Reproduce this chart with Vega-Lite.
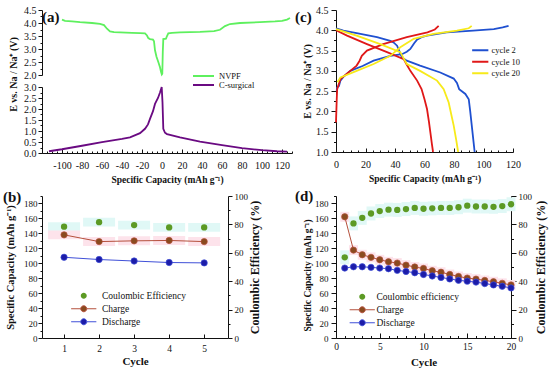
{
"$schema": "https://vega.github.io/schema/vega-lite/v6.json",
"padding": {"left": 3, "top": 5, "right": 2, "bottom": 2},
"config": {
 "view": {"stroke": null},
 "font": "Liberation Serif",
 "axis": {"labelFont": "Liberation Serif", "titleFont": "Liberation Serif", "labelFontSize": 10, "titleFontSize": 10, "titleFontWeight": "bold", "labelColor": "#111", "titleColor": "#111", "domainColor": "#111", "tickColor": "#111", "grid": false, "labelPadding": 2, "tickSize": 4, "domainWidth": 1, "tickWidth": 1, "labelFlush": false, "labelOverlap": false},
 "legend": {"labelFont": "Liberation Serif", "labelColor": "#111", "labelFontSize": 8.5},
 "title": {"font": "Liberation Serif", "fontSize": 15, "fontWeight": "bold", "anchor": "start", "frame": "group", "baseline": "middle", "color": "#111"}
},
"resolve": {"scale": {"color": "independent", "fill": "independent", "stroke": "independent"}},
"spacing": 4,
"vconcat": [
 {"hconcat": [
  {"title": {"text": "(a)", "dx": 0, "offset": -20},
   "bounds": "flush",
   "spacing": 12,
   "resolve": {"scale": {"color": "independent"}},
   "vconcat": [
    {"width": 250, "height": 65,
     "data": {"values": [
      {"x":-100,"e":4.13,"s":"NVPF"},{"x":-97,"e":4.08,"s":"NVPF"},{"x":-90,"e":4.06,"s":"NVPF"},{"x":-82,"e":4.03,"s":"NVPF"},{"x":-70,"e":4.0,"s":"NVPF"},{"x":-62,"e":3.97,"s":"NVPF"},{"x":-58,"e":3.92,"s":"NVPF"},{"x":-55,"e":3.78,"s":"NVPF"},{"x":-52,"e":3.68,"s":"NVPF"},{"x":-48,"e":3.65,"s":"NVPF"},{"x":-42,"e":3.64,"s":"NVPF"},{"x":-30,"e":3.62,"s":"NVPF"},{"x":-22,"e":3.61,"s":"NVPF"},{"x":-17,"e":3.6,"s":"NVPF"},{"x":-15,"e":3.52,"s":"NVPF"},{"x":-13.7,"e":3.42,"s":"NVPF"},{"x":-12,"e":3.38,"s":"NVPF"},{"x":-9,"e":3.36,"s":"NVPF"},{"x":-8,"e":3.3,"s":"NVPF"},{"x":-7,"e":2.95,"s":"NVPF"},{"x":-5.5,"e":2.7,"s":"NVPF"},{"x":-3.7,"e":2.5,"s":"NVPF"},{"x":-2,"e":2.3,"s":"NVPF"},{"x":-1,"e":2.12,"s":"NVPF"},{"x":-0.2,"e":2.02,"s":"NVPF"},{"x":0.3,"e":2.05,"s":"NVPF"},{"x":0.8,"e":2.9,"s":"NVPF"},{"x":1.3,"e":3.38,"s":"NVPF"},{"x":4,"e":3.4,"s":"NVPF"},{"x":5,"e":3.5,"s":"NVPF"},{"x":6.3,"e":3.6,"s":"NVPF"},{"x":10,"e":3.62,"s":"NVPF"},{"x":18,"e":3.64,"s":"NVPF"},{"x":38,"e":3.66,"s":"NVPF"},{"x":52,"e":3.69,"s":"NVPF"},{"x":58,"e":3.74,"s":"NVPF"},{"x":63,"e":3.88,"s":"NVPF"},{"x":68,"e":3.96,"s":"NVPF"},{"x":78,"e":4.0,"s":"NVPF"},{"x":98,"e":4.03,"s":"NVPF"},{"x":113,"e":4.06,"s":"NVPF"},{"x":120,"e":4.08,"s":"NVPF"},{"x":125,"e":4.13,"s":"NVPF"},{"x":128,"e":4.19,"s":"NVPF"}
     ]},
     "mark": {"type": "line", "strokeWidth": 1.8},
     "encoding": {
      "x": {"field": "x", "type": "quantitative", "scale": {"domain": [-120, 130]}, "axis": null},
      "y": {"field": "e", "type": "quantitative", "scale": {"domain": [2, 4.5]},
        "axis": {"values": [2,2.25,2.5,2.75,3,3.25,3.5,3.75,4,4.25,4.5],
          "labelExpr": "round(datum.value*100) % 50 === 0 ? format(datum.value, '.1f') : ''",
          "tickSize": {"condition": {"test": "round(datum.value*100) % 50 !== 0", "value": 2}, "value": 4},
          "title": "E vs. Na / Na⁺ (V)", "titleY": 64, "titlePadding": 5}},
      "color": {"field": "s", "type": "nominal", "scale": {"domain": ["NVPF"], "range": ["#5ef05e"]},
        "legend": {"title": null, "orient": "none", "legendX": 150, "legendY": 54.5, "symbolType": "stroke", "symbolSize": 441, "symbolStrokeWidth": 2, "labelOffset": 4}}
     }
    },
    {"width": 250, "height": 66,
     "data": {"values": [
      {"x":-113,"e":0.08,"s":"C-surgical"},{"x":-100,"e":0.17,"s":"C-surgical"},{"x":-80,"e":0.33,"s":"C-surgical"},{"x":-60,"e":0.49,"s":"C-surgical"},{"x":-40,"e":0.64,"s":"C-surgical"},{"x":-32,"e":0.71,"s":"C-surgical"},{"x":-22,"e":0.9,"s":"C-surgical"},{"x":-17,"e":1.1,"s":"C-surgical"},{"x":-14,"e":1.3,"s":"C-surgical"},{"x":-12,"e":1.55,"s":"C-surgical"},{"x":-9,"e":1.9,"s":"C-surgical"},{"x":-7,"e":2.23,"s":"C-surgical"},{"x":-4,"e":2.5,"s":"C-surgical"},{"x":-2,"e":2.75,"s":"C-surgical"},{"x":-0.3,"e":3.0,"s":"C-surgical"},{"x":0.5,"e":2.3,"s":"C-surgical"},{"x":1.3,"e":1.1,"s":"C-surgical"},{"x":3,"e":0.92,"s":"C-surgical"},{"x":5,"e":0.86,"s":"C-surgical"},{"x":10,"e":0.8,"s":"C-surgical"},{"x":18,"e":0.71,"s":"C-surgical"},{"x":38,"e":0.52,"s":"C-surgical"},{"x":60,"e":0.36,"s":"C-surgical"},{"x":80,"e":0.22,"s":"C-surgical"},{"x":100,"e":0.13,"s":"C-surgical"},{"x":115,"e":0.08,"s":"C-surgical"},{"x":125,"e":0.06,"s":"C-surgical"}
     ]},
     "mark": {"type": "line", "strokeWidth": 1.8},
     "encoding": {
      "x": {"field": "x", "type": "quantitative", "scale": {"domain": [-120, 130]},
        "axis": {"values": [-120,-115,-110,-105,-100,-95,-90,-85,-80,-75,-70,-65,-60,-55,-50,-45,-40,-35,-30,-25,-20,-15,-10,-5,0,5,10,15,20,25,30,35,40,45,50,55,60,65,70,75,80,85,90,95,100,105,110,115,120,125,130],
          "labelExpr": "(datum.value % 20 === 0 && datum.value !== -120) ? '' + datum.value : ''",
          "tickSize": {"condition": {"test": "datum.value % 20 !== 0", "value": -2}, "value": -4},
          "labelPadding": 11, "title": "Specific Capacity (mAh g⁻¹)", "titleFontSize": 9.5, "titlePadding": 2}},
      "y": {"field": "e", "type": "quantitative", "scale": {"domain": [0, 3]},
        "axis": {"values": [0,0.25,0.5,0.75,1,1.25,1.5,1.75,2,2.25,2.5,2.75,3],
          "labelExpr": "round(datum.value*100) % 50 === 0 ? format(datum.value, '.1f') : ''",
          "tickSize": {"condition": {"test": "round(datum.value*100) % 50 !== 0", "value": 2}, "value": 4},
          "title": null}},
      "color": {"field": "s", "type": "nominal", "scale": {"domain": ["C-surgical"], "range": ["#6a0a82"]},
        "legend": {"title": null, "orient": "none", "legendX": 150, "legendY": -13.5, "symbolType": "stroke", "symbolSize": 441, "symbolStrokeWidth": 2, "labelOffset": 4}}
     }
    }
   ]
  },
  {"width": 177, "height": 142,
   "title": {"text": "(c)", "dx": -41, "offset": -20},
   "data": {"values": [
    {"x":0.5,"e":2.5,"s":"cycle 2","g":"c"},{"x":0.7,"e":2.59,"s":"cycle 2","g":"c"},{"x":2,"e":2.63,"s":"cycle 2","g":"c"},{"x":3,"e":2.76,"s":"cycle 2","g":"c"},{"x":5,"e":2.85,"s":"cycle 2","g":"c"},{"x":9.7,"e":3.0,"s":"cycle 2","g":"c"},{"x":18,"e":3.12,"s":"cycle 2","g":"c"},{"x":25.5,"e":3.25,"s":"cycle 2","g":"c"},{"x":36.8,"e":3.37,"s":"cycle 2","g":"c"},{"x":44.7,"e":3.41,"s":"cycle 2","g":"c"},{"x":48,"e":3.47,"s":"cycle 2","g":"c"},{"x":50.4,"e":3.54,"s":"cycle 2","g":"c"},{"x":53,"e":3.68,"s":"cycle 2","g":"c"},{"x":54.9,"e":3.77,"s":"cycle 2","g":"c"},{"x":58,"e":3.83,"s":"cycle 2","g":"c"},{"x":61.7,"e":3.87,"s":"cycle 2","g":"c"},{"x":75,"e":3.95,"s":"cycle 2","g":"c"},{"x":93,"e":3.99,"s":"cycle 2","g":"c"},{"x":107,"e":4.03,"s":"cycle 2","g":"c"},{"x":113,"e":4.07,"s":"cycle 2","g":"c"},{"x":117,"e":4.11,"s":"cycle 2","g":"c"},
    {"x":0,"e":4.05,"s":"cycle 2","g":"d"},{"x":5,"e":3.99,"s":"cycle 2","g":"d"},{"x":14,"e":3.93,"s":"cycle 2","g":"d"},{"x":27.8,"e":3.83,"s":"cycle 2","g":"d"},{"x":36.8,"e":3.74,"s":"cycle 2","g":"d"},{"x":39,"e":3.7,"s":"cycle 2","g":"d"},{"x":41.4,"e":3.62,"s":"cycle 2","g":"d"},{"x":43,"e":3.48,"s":"cycle 2","g":"d"},{"x":44.7,"e":3.33,"s":"cycle 2","g":"d"},{"x":48,"e":3.25,"s":"cycle 2","g":"d"},{"x":57,"e":3.13,"s":"cycle 2","g":"d"},{"x":70.7,"e":2.96,"s":"cycle 2","g":"d"},{"x":79.8,"e":2.81,"s":"cycle 2","g":"d"},{"x":82,"e":2.7,"s":"cycle 2","g":"d"},{"x":83.5,"e":2.55,"s":"cycle 2","g":"d"},{"x":87.7,"e":2.43,"s":"cycle 2","g":"d"},{"x":90,"e":2.3,"s":"cycle 2","g":"d"},{"x":91,"e":2.0,"s":"cycle 2","g":"d"},{"x":92.2,"e":1.6,"s":"cycle 2","g":"d"},{"x":93.1,"e":1.3,"s":"cycle 2","g":"d"},{"x":94,"e":1.0,"s":"cycle 2","g":"d"},
    {"x":0,"e":1.73,"s":"cycle 10","g":"c"},{"x":0.5,"e":2.3,"s":"cycle 10","g":"c"},{"x":0.8,"e":2.55,"s":"cycle 10","g":"c"},{"x":3,"e":2.8,"s":"cycle 10","g":"c"},{"x":9.7,"e":3.0,"s":"cycle 10","g":"c"},{"x":14,"e":3.13,"s":"cycle 10","g":"c"},{"x":16,"e":3.25,"s":"cycle 10","g":"c"},{"x":17.5,"e":3.37,"s":"cycle 10","g":"c"},{"x":21,"e":3.5,"s":"cycle 10","g":"c"},{"x":32,"e":3.66,"s":"cycle 10","g":"c"},{"x":48,"e":3.83,"s":"cycle 10","g":"c"},{"x":62,"e":3.95,"s":"cycle 10","g":"c"},{"x":67,"e":4.02,"s":"cycle 10","g":"c"},{"x":69.6,"e":4.11,"s":"cycle 10","g":"c"},
    {"x":0,"e":4.0,"s":"cycle 10","g":"d"},{"x":7.5,"e":3.87,"s":"cycle 10","g":"d"},{"x":21,"e":3.66,"s":"cycle 10","g":"d"},{"x":34.6,"e":3.46,"s":"cycle 10","g":"d"},{"x":45.9,"e":3.29,"s":"cycle 10","g":"d"},{"x":48,"e":3.15,"s":"cycle 10","g":"d"},{"x":50.4,"e":3.0,"s":"cycle 10","g":"d"},{"x":55,"e":2.76,"s":"cycle 10","g":"d"},{"x":58,"e":2.55,"s":"cycle 10","g":"d"},{"x":60,"e":2.3,"s":"cycle 10","g":"d"},{"x":61.7,"e":2.06,"s":"cycle 10","g":"d"},{"x":63,"e":1.75,"s":"cycle 10","g":"d"},{"x":64,"e":1.48,"s":"cycle 10","g":"d"},{"x":65,"e":1.2,"s":"cycle 10","g":"d"},{"x":65.8,"e":1.0,"s":"cycle 10","g":"d"},
    {"x":1,"e":2.72,"s":"cycle 20","g":"c"},{"x":3,"e":2.84,"s":"cycle 20","g":"c"},{"x":14,"e":3.0,"s":"cycle 20","g":"c"},{"x":25.5,"e":3.17,"s":"cycle 20","g":"c"},{"x":36.8,"e":3.37,"s":"cycle 20","g":"c"},{"x":43.6,"e":3.58,"s":"cycle 20","g":"c"},{"x":52.7,"e":3.79,"s":"cycle 20","g":"c"},{"x":66,"e":3.91,"s":"cycle 20","g":"c"},{"x":82,"e":3.99,"s":"cycle 20","g":"c"},{"x":90,"e":4.05,"s":"cycle 20","g":"c"},{"x":92,"e":4.11,"s":"cycle 20","g":"c"},
    {"x":0,"e":4.03,"s":"cycle 20","g":"d"},{"x":14,"e":3.87,"s":"cycle 20","g":"d"},{"x":30,"e":3.66,"s":"cycle 20","g":"d"},{"x":43.6,"e":3.46,"s":"cycle 20","g":"d"},{"x":46,"e":3.3,"s":"cycle 20","g":"d"},{"x":48,"e":3.17,"s":"cycle 20","g":"d"},{"x":57,"e":3.0,"s":"cycle 20","g":"d"},{"x":68.5,"e":2.76,"s":"cycle 20","g":"d"},{"x":73,"e":2.55,"s":"cycle 20","g":"d"},{"x":76.4,"e":2.22,"s":"cycle 20","g":"d"},{"x":78,"e":1.95,"s":"cycle 20","g":"d"},{"x":79.8,"e":1.65,"s":"cycle 20","g":"d"},{"x":81.5,"e":1.3,"s":"cycle 20","g":"d"},{"x":82.8,"e":1.0,"s":"cycle 20","g":"d"}
   ]},
   "mark": {"type": "line", "strokeWidth": 1.8},
   "encoding": {
    "x": {"field": "x", "type": "quantitative", "scale": {"domain": [0, 120]},
      "axis": {"values": [0,5,10,15,20,25,30,35,40,45,50,55,60,65,70,75,80,85,90,95,100,105,110,115,120],
        "labelExpr": "datum.value % 20 === 0 ? '' + datum.value : ''",
        "tickSize": {"condition": {"test": "datum.value % 20 !== 0", "value": -2}, "value": -4},
        "labelPadding": 11, "title": "Specific Capacity (mAh g⁻¹)", "titleFontSize": 9.5, "titlePadding": 2}},
    "y": {"field": "e", "type": "quantitative", "scale": {"domain": [1, 4.5]},
      "axis": {"values": [1,1.25,1.5,1.75,2,2.25,2.5,2.75,3,3.25,3.5,3.75,4,4.25,4.5],
        "labelExpr": "round(datum.value*100) % 50 === 0 ? format(datum.value, '.1f') : ''",
        "tickSize": {"condition": {"test": "round(datum.value*100) % 50 !== 0", "value": 2.5}, "value": 5},
        "labelPadding": 3, "title": "E vs. Na / Na⁺ (V)", "titlePadding": 3}},
    "color": {"field": "s", "type": "nominal", "scale": {"domain": ["cycle 2", "cycle 10", "cycle 20"], "range": ["#1f50d0", "#e01818", "#f7ea1a"]},
      "legend": {"title": null, "orient": "none", "legendX": 140, "legendY": 36, "symbolType": "M-2.7,0H2.7", "symbolSize": 36, "symbolStrokeWidth": 2, "labelOffset": 7, "rowPadding": 2.5}},
    "detail": {"field": "g"}
   }
  }
 ],
 "spacing": 1,
 "resolve": {"scale": {"color": "independent"}}
 },
 {"hconcat": [
  {"width": 186, "height": 142,
   "title": {"text": "(b)", "dx": -39, "offset": -12.5},
   "data": {"values": [
    {"c":1,"s":"Coulombic Efficiency","v":78.4},{"c":2,"s":"Coulombic Efficiency","v":81.6},{"c":3,"s":"Coulombic Efficiency","v":79.5},{"c":4,"s":"Coulombic Efficiency","v":77.9},{"c":5,"s":"Coulombic Efficiency","v":77.9},
    {"c":1,"s":"Charge","v":138},{"c":2,"s":"Charge","v":129},{"c":3,"s":"Charge","v":130},{"c":4,"s":"Charge","v":130.5},{"c":5,"s":"Charge","v":129},
    {"c":1,"s":"Discharge","v":108},{"c":2,"s":"Discharge","v":105},{"c":3,"s":"Discharge","v":103},{"c":4,"s":"Discharge","v":101},{"c":5,"s":"Discharge","v":100.5}
   ]},
   "encoding": {"x": {"field": "c", "type": "quantitative", "scale": {"domain": [0.37, 5.68]},
     "axis": {"values": [1,2,3,4,5], "tickSize": -4, "labelPadding": 9, "labelFontSize": 9.5, "title": "Cycle", "titleFontSize": 11, "titlePadding": 3}}},
   "layer": [
    {"transform": [{"filter": "datum.s === 'Coulombic Efficiency'"}],
     "mark": {"type": "point", "shape": "M-1,-0.27H1V0.27H-1Z", "filled": true, "size": 1024, "color": "#e0f8f6", "opacity": 1},
     "encoding": {"y": {"field": "v", "type": "quantitative", "scale": {"domain": [0, 100]}, "axis": null}}},
    {"layer": [
      {"transform": [{"filter": "datum.s === 'Charge'"}], "mark": {"type": "point", "shape": "M-1,-0.28H1V0.28H-1Z", "filled": true, "size": 1024, "color": "#fde3eb", "opacity": 1}},
      {"transform": [{"filter": "datum.s === 'Charge'"}], "mark": {"type": "line", "color": "#b5503c", "strokeWidth": 1}},
      {"transform": [{"filter": "datum.s === 'Discharge'"}], "mark": {"type": "line", "color": "#4050d8", "strokeWidth": 1}},
      {"transform": [{"filter": "datum.s !== 'Coulombic Efficiency'"}], "mark": {"type": "point", "filled": true, "size": 40, "strokeWidth": 0.7, "opacity": 1},
       "encoding": {
        "fill": {"field": "s", "type": "nominal", "scale": {"domain": ["Coulombic Efficiency", "Charge", "Discharge"], "range": ["#5c9a24", "#8a4a1f", "#1c1ca8"]},
          "legend": {"title": null, "orient": "none", "legendX": 37, "legendY": 95, "symbolType": "M-4.2,0H-1M1,0H4.2M1,0A1,1 0 1 1 -1,0A1,1 0 1 1 1,0Z", "symbolSize": 36, "symbolStrokeWidth": 1, "labelOffset": 13.5, "labelFontSize": 9.5, "rowPadding": 2}},
        "stroke": {"field": "s", "type": "nominal", "scale": {"domain": ["Coulombic Efficiency", "Charge", "Discharge"], "range": ["transparent", "#b5503c", "#4050d8"]},
          "legend": {"title": null, "orient": "none", "legendX": 37, "legendY": 95, "symbolType": "M-4.2,0H-1M1,0H4.2M1,0A1,1 0 1 1 -1,0A1,1 0 1 1 1,0Z", "symbolSize": 36, "symbolStrokeWidth": 1, "labelOffset": 13.5, "labelFontSize": 9.5, "rowPadding": 2}}
       }}
     ],
     "encoding": {"y": {"field": "v", "type": "quantitative", "scale": {"domain": [0, 190]},
       "axis": {"values": [0,10,20,30,40,50,60,70,80,90,100,110,120,130,140,150,160,170,180,190],
         "labelExpr": "(datum.value % 20 === 0 && datum.value <= 180) ? '' + datum.value : ''",
         "tickSize": {"condition": {"test": "datum.value % 20 !== 0", "value": 2}, "value": 4},
         "labelPadding": 1, "labelFontSize": 9, "title": "Specific Capacity (mAh g⁻¹)", "titleFontSize": 10.5, "titlePadding": 8}}}
    },
    {"transform": [{"filter": "datum.s === 'Coulombic Efficiency'"}],
     "mark": {"type": "point", "filled": true, "size": 40, "strokeWidth": 0.7, "opacity": 1},
     "encoding": {
      "y": {"field": "v", "type": "quantitative", "scale": {"domain": [0, 100]},
        "axis": {"orient": "right", "values": [0,10,20,30,40,50,60,70,80,90,100],
          "labelExpr": "datum.value % 20 === 0 ? '' + datum.value : ''",
          "tickSize": {"condition": {"test": "datum.value % 20 !== 0", "value": 2}, "value": 4},
          "labelPadding": 2, "labelFontSize": 9, "title": "Coulombic Efficiency (%)", "titleFontSize": 12, "titleAngle": -90, "titleBaseline": "top", "titlePadding": 2}},
      "fill": {"field": "s", "type": "nominal", "scale": {"domain": ["Coulombic Efficiency", "Charge", "Discharge"], "range": ["#5c9a24", "#8a4a1f", "#1c1ca8"]},
        "legend": {"title": null, "orient": "none", "legendX": 37, "legendY": 95, "symbolType": "M-4.2,0H-1M1,0H4.2M1,0A1,1 0 1 1 -1,0A1,1 0 1 1 1,0Z", "symbolSize": 36, "symbolStrokeWidth": 1, "labelOffset": 13.5, "labelFontSize": 9.5, "rowPadding": 2}},
      "stroke": {"field": "s", "type": "nominal", "scale": {"domain": ["Coulombic Efficiency", "Charge", "Discharge"], "range": ["transparent", "#b5503c", "#4050d8"]},
        "legend": {"title": null, "orient": "none", "legendX": 37, "legendY": 95, "symbolType": "M-4.2,0H-1M1,0H4.2M1,0A1,1 0 1 1 -1,0A1,1 0 1 1 1,0Z", "symbolSize": 36, "symbolStrokeWidth": 1, "labelOffset": 13.5, "labelFontSize": 9.5, "rowPadding": 2}}
     }}
   ],
   "resolve": {"scale": {"y": "independent"}}
  },
  {"width": 175, "height": 142,
   "title": {"text": "(d)", "dx": -41, "offset": -11.7},
   "data": {"values": [
    {"c":1,"s":"Coulombic efficiency","v":56.8},{"c":2,"s":"Coulombic efficiency","v":80.7},{"c":3,"s":"Coulombic efficiency","v":84.6},{"c":4,"s":"Coulombic efficiency","v":87.7},{"c":5,"s":"Coulombic efficiency","v":89.4},{"c":6,"s":"Coulombic efficiency","v":90.4},{"c":7,"s":"Coulombic efficiency","v":90.2},{"c":8,"s":"Coulombic efficiency","v":90.8},{"c":9,"s":"Coulombic efficiency","v":91.6},{"c":10,"s":"Coulombic efficiency","v":91.0},{"c":11,"s":"Coulombic efficiency","v":91.3},{"c":12,"s":"Coulombic efficiency","v":91.6},{"c":13,"s":"Coulombic efficiency","v":91.6},{"c":14,"s":"Coulombic efficiency","v":92.1},{"c":15,"s":"Coulombic efficiency","v":93.2},{"c":16,"s":"Coulombic efficiency","v":92.6},{"c":17,"s":"Coulombic efficiency","v":92.6},{"c":18,"s":"Coulombic efficiency","v":92.4},{"c":19,"s":"Coulombic efficiency","v":92.9},{"c":20,"s":"Coulombic efficiency","v":94.2},
    {"c":1,"s":"Charge","v":162.2},{"c":2,"s":"Charge","v":117.6},{"c":3,"s":"Charge","v":111.4},{"c":4,"s":"Charge","v":107.9},{"c":5,"s":"Charge","v":104.7},{"c":6,"s":"Charge","v":102.0},{"c":7,"s":"Charge","v":100.3},{"c":8,"s":"Charge","v":97.5},{"c":9,"s":"Charge","v":95.0},{"c":10,"s":"Charge","v":93.0},{"c":11,"s":"Charge","v":90.0},{"c":12,"s":"Charge","v":88.0},{"c":13,"s":"Charge","v":85.0},{"c":14,"s":"Charge","v":82.3},{"c":15,"s":"Charge","v":80.2},{"c":16,"s":"Charge","v":78.8},{"c":17,"s":"Charge","v":77.0},{"c":18,"s":"Charge","v":75.3},{"c":19,"s":"Charge","v":73.2},{"c":20,"s":"Charge","v":71.0},
    {"c":1,"s":"Discharge","v":93.6},{"c":2,"s":"Discharge","v":95.3},{"c":3,"s":"Discharge","v":95.3},{"c":4,"s":"Discharge","v":94.5},{"c":5,"s":"Discharge","v":93.6},{"c":6,"s":"Discharge","v":92.7},{"c":7,"s":"Discharge","v":90.5},{"c":8,"s":"Discharge","v":89.0},{"c":9,"s":"Discharge","v":87.3},{"c":10,"s":"Discharge","v":85.0},{"c":11,"s":"Discharge","v":83.0},{"c":12,"s":"Discharge","v":81.0},{"c":13,"s":"Discharge","v":79.0},{"c":14,"s":"Discharge","v":77.2},{"c":15,"s":"Discharge","v":76.0},{"c":16,"s":"Discharge","v":74.8},{"c":17,"s":"Discharge","v":72.8},{"c":18,"s":"Discharge","v":71.0},{"c":19,"s":"Discharge","v":69.2},{"c":20,"s":"Discharge","v":67.0}
   ]},
   "encoding": {"x": {"field": "c", "type": "quantitative", "scale": {"domain": [0, 20]},
     "axis": {"values": [0,1,2,3,4,5,6,7,8,9,10,11,12,13,14,15,16,17,18,19,20],
       "labelExpr": "datum.value % 5 === 0 ? '' + datum.value : ''",
       "tickSize": {"condition": {"test": "datum.value % 5 !== 0", "value": -2.5}, "value": -5},
       "labelPadding": 8, "labelFontSize": 9.5, "title": "Cycle", "titleFontSize": 11, "titlePadding": 3}}},
   "layer": [
    {"transform": [{"filter": "datum.s === 'Coulombic efficiency'"}],
     "mark": {"type": "point", "shape": "M-1,-1.55H1V1.55H-1Z", "filled": true, "size": 81, "color": "#e0f8f6", "opacity": 1},
     "encoding": {"y": {"field": "v", "type": "quantitative", "scale": {"domain": [0, 100]}, "axis": null}}},
    {"layer": [
      {"transform": [{"filter": "datum.s === 'Charge'"}], "mark": {"type": "point", "shape": "M-1,-1.1H1V1.1H-1Z", "filled": true, "size": 81, "color": "#fde3eb", "opacity": 1}},
      {"transform": [{"filter": "datum.s === 'Charge'"}], "mark": {"type": "line", "color": "#b5503c", "strokeWidth": 1}},
      {"transform": [{"filter": "datum.s === 'Discharge'"}], "mark": {"type": "line", "color": "#4050d8", "strokeWidth": 1}},
      {"transform": [{"filter": "datum.s !== 'Coulombic efficiency'"}], "mark": {"type": "point", "filled": true, "size": 40, "strokeWidth": 0.7, "opacity": 1},
       "encoding": {
        "fill": {"field": "s", "type": "nominal", "scale": {"domain": ["Coulombic efficiency", "Charge", "Discharge"], "range": ["#5c9a24", "#8a4a1f", "#1c1ca8"]},
          "legend": {"title": null, "orient": "none", "legendX": 21.5, "legendY": 96, "symbolType": "M-4.2,0H-1M1,0H4.2M1,0A1,1 0 1 1 -1,0A1,1 0 1 1 1,0Z", "symbolSize": 36, "symbolStrokeWidth": 1, "labelOffset": 9.5, "labelFontSize": 9.5, "rowPadding": 2}},
        "stroke": {"field": "s", "type": "nominal", "scale": {"domain": ["Coulombic efficiency", "Charge", "Discharge"], "range": ["transparent", "#b5503c", "#4050d8"]},
          "legend": {"title": null, "orient": "none", "legendX": 21.5, "legendY": 96, "symbolType": "M-4.2,0H-1M1,0H4.2M1,0A1,1 0 1 1 -1,0A1,1 0 1 1 1,0Z", "symbolSize": 36, "symbolStrokeWidth": 1, "labelOffset": 9.5, "labelFontSize": 9.5, "rowPadding": 2}}
       }}
     ],
     "encoding": {"y": {"field": "v", "type": "quantitative", "scale": {"domain": [0, 190]},
       "axis": {"values": [0,10,20,30,40,50,60,70,80,90,100,110,120,130,140,150,160,170,180,190],
         "labelExpr": "(datum.value % 20 === 0 && datum.value <= 180) ? '' + datum.value : ''",
         "tickSize": {"condition": {"test": "datum.value % 20 !== 0", "value": 2.5}, "value": 5},
         "labelPadding": 3, "labelFontSize": 9, "title": "Specific Capacity (mAh g⁻¹)", "titleFontSize": 9.5, "titlePadding": 2, "titleY": 79}}}
    },
    {"transform": [{"filter": "datum.s === 'Coulombic efficiency'"}],
     "mark": {"type": "point", "filled": true, "size": 40, "strokeWidth": 0.7, "opacity": 1},
     "encoding": {
      "y": {"field": "v", "type": "quantitative", "scale": {"domain": [0, 100]},
        "axis": {"orient": "right", "values": [0,10,20,30,40,50,60,70,80,90,100],
          "labelExpr": "datum.value % 20 === 0 ? '' + datum.value : ''",
          "tickSize": {"condition": {"test": "datum.value % 20 !== 0", "value": 2.5}, "value": 5},
          "labelPadding": 2, "labelFontSize": 9, "title": "Coulombic Efficiency (%)", "titleFontSize": 12, "titleAngle": -90, "titleBaseline": "top", "titlePadding": 4}},
      "fill": {"field": "s", "type": "nominal", "scale": {"domain": ["Coulombic efficiency", "Charge", "Discharge"], "range": ["#5c9a24", "#8a4a1f", "#1c1ca8"]},
        "legend": {"title": null, "orient": "none", "legendX": 21.5, "legendY": 96, "symbolType": "M-4.2,0H-1M1,0H4.2M1,0A1,1 0 1 1 -1,0A1,1 0 1 1 1,0Z", "symbolSize": 36, "symbolStrokeWidth": 1, "labelOffset": 9.5, "labelFontSize": 9.5, "rowPadding": 2}},
      "stroke": {"field": "s", "type": "nominal", "scale": {"domain": ["Coulombic efficiency", "Charge", "Discharge"], "range": ["transparent", "#b5503c", "#4050d8"]},
        "legend": {"title": null, "orient": "none", "legendX": 21.5, "legendY": 96, "symbolType": "M-4.2,0H-1M1,0H4.2M1,0A1,1 0 1 1 -1,0A1,1 0 1 1 1,0Z", "symbolSize": 36, "symbolStrokeWidth": 1, "labelOffset": 9.5, "labelFontSize": 9.5, "rowPadding": 2}}
     }}
   ],
   "resolve": {"scale": {"y": "independent"}}
  }
 ],
 "spacing": 34,
 "resolve": {"scale": {"fill": "independent", "stroke": "independent"}}
 }
]
}
